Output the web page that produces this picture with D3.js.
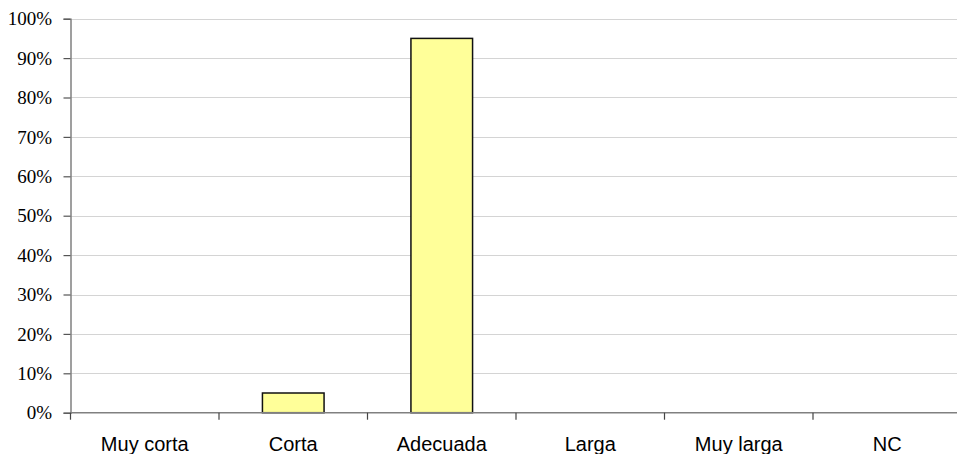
<!DOCTYPE html>
<html><head><meta charset="utf-8">
<script src="https://cdn.jsdelivr.net/npm/d3@7"></script>
<style>body{margin:0;background:#fff}svg{display:block}</style>
</head><body><svg id="c" width="957" height="454"></svg>
<script>
const categories = ["Muy corta","Corta","Adecuada","Larga","Muy larga","NC"];
const values = [0, 5, 95, 0, 0, 0];
const yTicks = [0,10,20,30,40,50,60,70,80,90,100];

const svg = d3.select("#c");
const x0 = 70.5, x1 = 961.5, yTop = 18.7, yBot = 412.7;
const x = d3.scaleBand().domain(categories).range([x0, x1]).paddingInner(0).paddingOuter(0);
const y = d3.scaleLinear().domain([0,100]).range([yBot, yTop]);

// gridlines
svg.append("g").selectAll("line").data(yTicks.filter(d=>d>0)).join("line")
  .attr("x1", x0).attr("x2", 957).attr("y1", d=>Math.round(y(d))+0.5).attr("y2", d=>Math.round(y(d))+0.5)
  .attr("stroke", "#d4d4d4").attr("stroke-width", 1);

// bars
const bw = x.bandwidth()*0.415;
svg.append("g").selectAll("rect").data(categories.map((c,i)=>({c, v:values[i]})).filter(d=>d.v>0)).join("rect")
  .attr("x", d=>x(d.c)+x.bandwidth()/2-bw/2).attr("width", bw)
  .attr("y", d=>y(d.v)).attr("height", d=>yBot-y(d.v))
  .attr("fill", "#ffff99").attr("stroke", "#111").attr("stroke-width", 1.5);

// y axis
const ya = svg.append("g").attr("transform", `translate(${x0},0)`)
  .call(d3.axisLeft(y).tickValues(yTicks).tickSize(7).tickFormat(d=>d+"%"));
ya.select(".domain").attr("stroke", "#808080").attr("stroke-width", 1.5);
ya.selectAll(".tick line").attr("stroke", "#555").attr("stroke-width", 1.2);
ya.selectAll(".tick text").attr("font-family", "'Liberation Serif', 'Times New Roman', serif")
  .attr("font-size", 19).attr("fill", "#000").attr("x", -18.5).attr("dy", "0.33em");

// x axis
const xa = svg.append("g").attr("transform", `translate(0,${yBot})`);
xa.append("line").attr("x1", x0).attr("x2", 957).attr("y1", 0).attr("y2", 0)
  .attr("stroke", "#808080").attr("stroke-width", 1.5);
xa.selectAll("line.t").data(categories).join("line").attr("class","t")
  .attr("x1", d=>x(d)).attr("x2", d=>x(d)).attr("y1", 0).attr("y2", 7)
  .attr("stroke", "#444").attr("stroke-width", 1.2);
xa.selectAll("text").data(categories).join("text")
  .attr("x", d=>x(d)+x.bandwidth()/2).attr("y", 38)
  .attr("text-anchor", "middle")
  .attr("font-family", "'Liberation Sans', Arial, sans-serif").attr("font-size", 20).attr("fill", "#000")
  .text(d=>d);
</script></body></html>
